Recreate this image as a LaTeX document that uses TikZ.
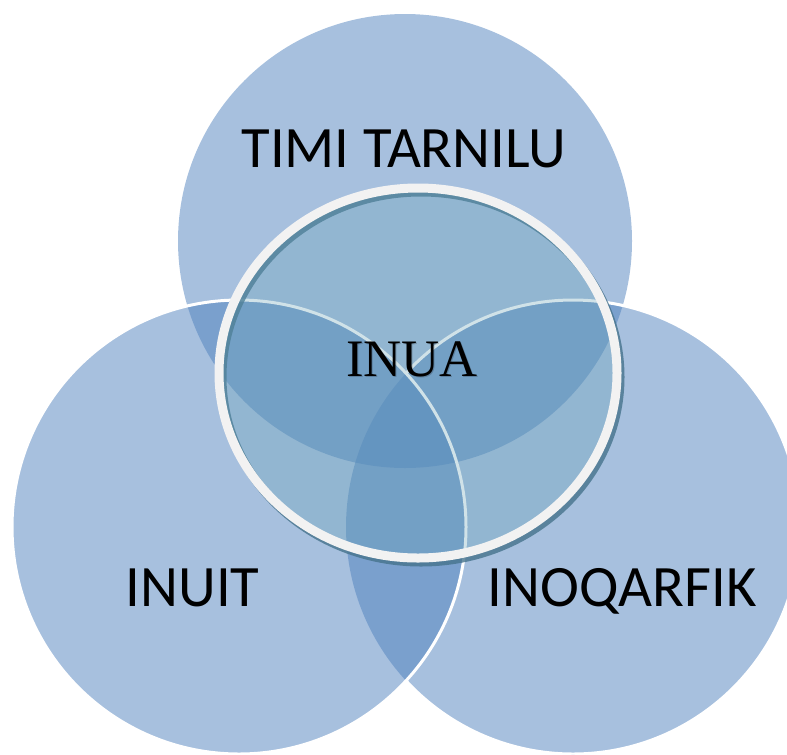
\documentclass[tikz,border=0pt]{standalone}
\usepackage{fontspec}
\newfontfamily\carlito{Carlito}
\newfontfamily\romain{Liberation Serif}
\definecolor{bleuvenn}{RGB}{79,129,189}
\definecolor{teinte}{RGB}{100,160,180}
\definecolor{anneau}{RGB}{242,242,242}
\definecolor{ombre}{RGB}{70,115,140}

\begin{document}
\begin{tikzpicture}[x=0.75pt,y=-0.75pt]
\tikzset{disque/.style={fill=bleuvenn, fill opacity=0.5},
  bord/.style={draw=white, line width=2.25pt},
  etiquette/.style={font=\carlito\fontsize{44}{50}\selectfont, anchor=base, inner sep=0pt},
  inua/.style={font=\romain\fontsize{39.5}{45}\selectfont, anchor=base, inner sep=0pt}}
\useasboundingbox (0,0) rectangle (787,754);
\clip (0,0) rectangle (787,754);
\coordinate (CH) at (405,241);
\coordinate (CG) at (239,527);
\coordinate (CD) at (573,527);
\coordinate (CI) at (418,373);
% les trois disques
\fill[disque] (CH) circle[radius=170.25pt];
\fill[disque] (CD) circle[radius=170.25pt];
\fill[disque] (CG) circle[radius=170.25pt];
\begin{scope}[even odd rule]
\clip (0,0) rectangle (787,754) (CG) circle[radius=170.25pt];
\draw[bord] (CD) circle[radius=170.25pt];
\end{scope}
\draw[bord] (CG) circle[radius=170.25pt];
% anneau central
\draw[draw=ombre, line width=6.75pt, opacity=0.8] ([shift={(3,4)}]CI) ellipse[x radius=149.25pt, y radius=138.75pt];
\draw[fill=teinte, fill opacity=0.3, draw=anneau, line width=6.75pt] (CI) ellipse[x radius=149.25pt, y radius=138.75pt];
\node[etiquette] (TT) at (404,167) {TIMI TARNILU};
\node[etiquette] (IT) at (192.5,606) {INUIT};
\node[etiquette] (IQ) at (622,606) {INOQARFIK};
\node[inua, opacity=0.2] (INUAo) at (413,377) {INUA};
\node[inua] (INUA) at (412,376) {INUA};
\end{tikzpicture}
\end{document}
